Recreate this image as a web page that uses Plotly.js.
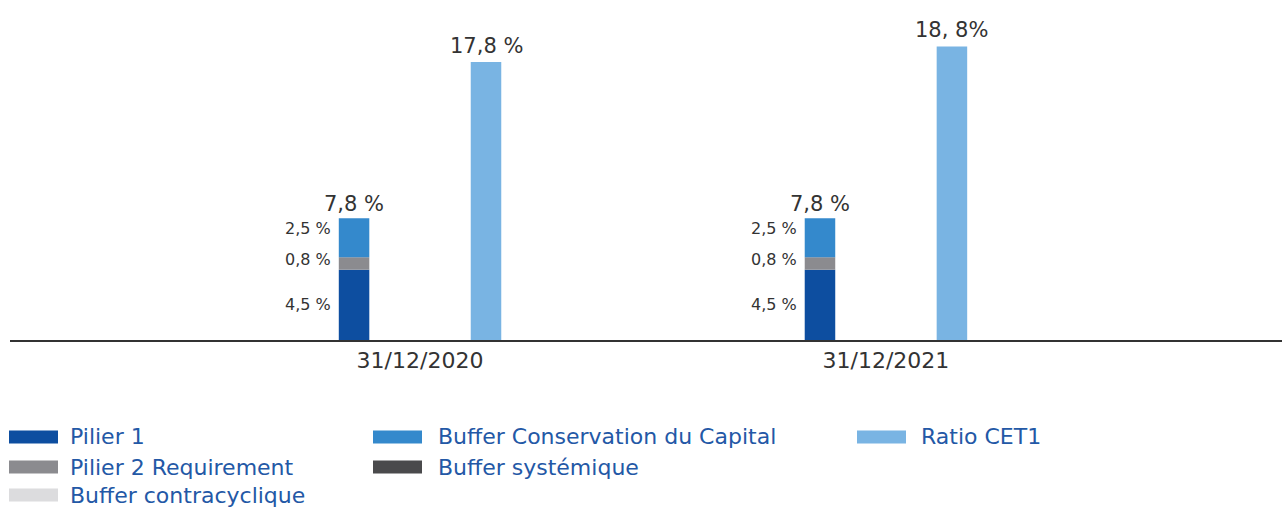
<!DOCTYPE html>
<html><head><meta charset="utf-8">
<script src="https://cdn.plot.ly/plotly-3.0.1.min.js"></script>
<style>html,body{margin:0;padding:0;background:#fff}#chart{width:1282px;height:507px}</style>
</head><body><div id="chart"></div>
<script>
const categories = ['31/12/2020', '31/12/2021'];
const pilier1 = [4.5, 4.5];
const pilier2 = [0.8, 0.8];
const bufferContracyclique = [0, 0];
const bufferSystemique = [0, 0];
const bufferConservation = [2.5, 2.5];
const ratioCET1 = [17.8, 18.8];
const pilier1Labels = ['4,5 %', '4,5 %'];
const pilier2Labels = ['0,8 %', '0,8 %'];
const conservationLabels = ['2,5 %', '2,5 %'];
const totalLabels = ['7,8 %', '7,8 %'];
const cet1Labels = ['17,8 %', '18, 8%'];

const FONT = 'DejaVu Sans, sans-serif';
const TXT = '#333333';
const LEG = '#2358A6';
const W = 0.0655, OFF = 0.1416;
const idx = categories.map((c, i) => i);

const stack = [
  {name: 'Pilier 1', y: pilier1, color: '#0D4EA0'},
  {name: 'Pilier 2 Requirement', y: pilier2, color: '#8B8B8F'},
  {name: 'Buffer contracyclique', y: bufferContracyclique, color: '#DCDCDE'},
  {name: 'Buffer systémique', y: bufferSystemique, color: '#4A4A4C'},
  {name: 'Buffer Conservation du Capital', y: bufferConservation, color: '#3489CC'}
];
const traces = [];
let cum = idx.map(() => 0);
const bases = [];
stack.forEach(s => {
  const base = cum.slice();
  bases.push(base);
  traces.push({type: 'bar', name: s.name, x: idx, y: s.y, base: base,
    width: W, offset: -OFF - W / 2, marker: {color: s.color, line: {width: 0}},
    hoverinfo: 'skip', showlegend: false});
  cum = cum.map((v, i) => v + s.y[i]);
});
const totals = cum;
traces.push({type: 'bar', name: 'Ratio CET1', x: idx, y: ratioCET1, base: idx.map(() => 0),
  width: W, offset: OFF - W / 2, marker: {color: '#79B4E3', line: {width: 0}},
  hoverinfo: 'skip', showlegend: false});

const annotations = [];
idx.forEach(i => {
  annotations.push({x: i - OFF, y: totals[i], xref: 'x', yref: 'y', text: totalLabels[i],
    showarrow: false, yanchor: 'bottom', xanchor: 'center', yshift: 0,
    font: {family: FONT, size: 21, color: TXT}});
  annotations.push({x: i + OFF, y: ratioCET1[i], xref: 'x', yref: 'y', text: cet1Labels[i],
    showarrow: false, yanchor: 'bottom', xanchor: 'center', yshift: 2,
    font: {family: FONT, size: 21, color: TXT}});
  const segs = [[pilier1Labels, 0, 0], [pilier2Labels, 1, 4], [conservationLabels, 4, 9]];
  segs.forEach(([lab, k, sh]) => {
    annotations.push({x: i - OFF - W / 2, y: bases[k][i] + stack[k].y[i] / 2, xref: 'x', yref: 'y',
      text: lab[i], showarrow: false, xanchor: 'right', yanchor: 'middle', xshift: -6, yshift: sh,
      font: {family: FONT, size: 16, color: TXT}});
  });
});

// custom legend
const L = 10, PW = 1272, PH = 340;
const px = v => (v - L) / PW, py = v => (PH - v) / PH;
const legendItems = [
  {name: 'Pilier 1', color: '#0D4EA0', col: 0, row: 0},
  {name: 'Pilier 2 Requirement', color: '#8B8B8F', col: 0, row: 1},
  {name: 'Buffer contracyclique', color: '#DCDCDE', col: 0, row: 2},
  {name: 'Buffer Conservation du Capital', color: '#3489CC', col: 1, row: 0},
  {name: 'Buffer systémique', color: '#4A4A4C', col: 1, row: 1},
  {name: 'Ratio CET1', color: '#79B4E3', col: 2, row: 0}
];
const colX = [9, 373, 857], textX = [68, 436, 919], rowY = [437, 467, 495];
const shapes = [];
legendItems.forEach(it => {
  const x0 = colX[it.col], yc = rowY[it.row];
  shapes.push({type: 'rect', xref: 'paper', yref: 'paper', x0: px(x0), x1: px(x0 + 49),
    y0: py(yc - 6.5), y1: py(yc + 6.5), fillcolor: it.color, line: {width: 0}});
  annotations.push({xref: 'paper', yref: 'paper', x: px(textX[it.col]), y: py(yc), text: it.name,
    showarrow: false, xanchor: 'left', yanchor: 'middle',
    font: {family: FONT, size: 22, color: LEG}});
});

const layout = {
  width: 1282, height: 507,
  margin: {l: 10, r: 0, t: 0, b: 167},
  paper_bgcolor: '#fff', plot_bgcolor: '#fff',
  barmode: 'overlay', showlegend: false,
  xaxis: {type: 'linear', range: [-0.880, 1.850], tickvals: idx, ticktext: categories,
    showgrid: false, zeroline: false, showline: true, linecolor: '#333', linewidth: 1.5,
    ticks: '', tickfont: {family: FONT, size: 22, color: TXT}},
  yaxis: {range: [0, 21.77], visible: false, showgrid: false, zeroline: false},
  annotations: annotations, shapes: shapes,
  font: {family: FONT}
};
Plotly.newPlot('chart', traces, layout, {staticPlot: true, displayModeBar: false});
</script></body></html>
